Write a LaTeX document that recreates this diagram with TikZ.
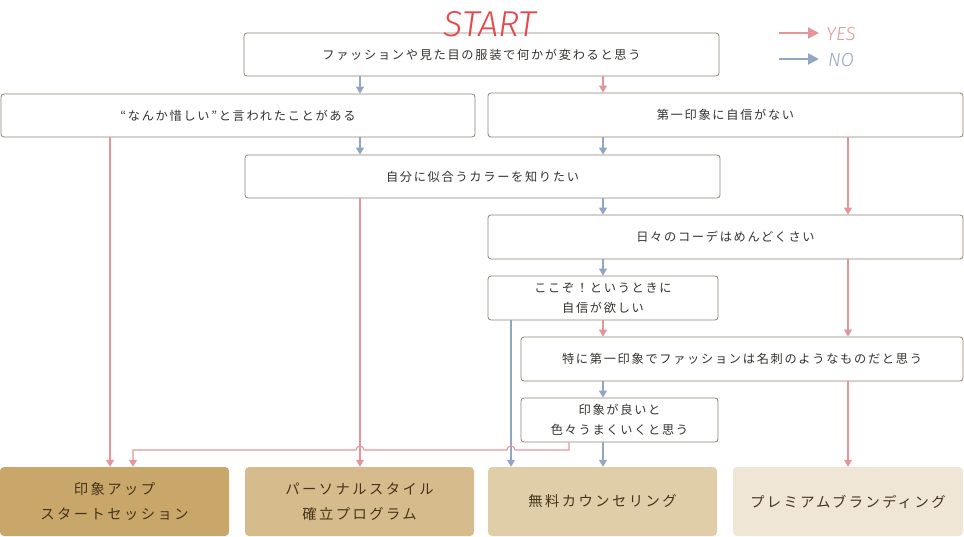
\documentclass[tikz,border=0pt]{standalone}
\usepackage{fontspec}
\usetikzlibrary{arrows.meta}
\newfontfamily\jp{Noto Sans CJK JP}[LetterSpace=14]
\newfontfamily\jpb{Noto Sans CJK JP}[LetterSpace=17]
\newfontfamily\hand{Fira Sans Light Italic}
\definecolor{bordc}{HTML}{8C8075}
\definecolor{txtc}{HTML}{35322E}
\definecolor{btxt}{HTML}{45331A}
\definecolor{yesc}{HTML}{E3959A}
\definecolor{noc}{HTML}{93A6C1}
\definecolor{startc}{HTML}{E8474A}
\definecolor{fA}{HTML}{C9A76A}
\definecolor{fB}{HTML}{D6BC8D}
\definecolor{fC}{HTML}{E0CEA9}
\definecolor{fD}{HTML}{F0E6D6}
\tikzset{
  qbox/.style={draw=bordc, line width=0.8pt, rounded corners=3pt, fill=white,
    inner sep=0pt, text=txtc, font=\jp\fontsize{12.2}{20}\selectfont, align=center},
  rbox/.style={rounded corners=4pt, inner sep=0pt, minimum width=229pt, minimum height=69pt,
    text=btxt, font=\jpb\fontsize{14.3}{25}\selectfont, align=center},
  yes/.style={draw=yesc, line width=1.1pt, -{Triangle[width=8pt,length=7pt]}},
  no/.style={draw=noc, line width=1.1pt, -{Triangle[width=8pt,length=7pt]}},
  legy/.style={draw=yesc, line width=2pt, -{Triangle[width=11pt,length=11pt]}},
  legn/.style={draw=noc, line width=2pt, -{Triangle[width=11pt,length=11pt]}}
}
\begin{document}
\begin{tikzpicture}[x=1pt,y=-1pt]
\useasboundingbox (0,0) rectangle (964,537);
% x positions
\coordinate (xa) at (110,0);
\coordinate (xb) at (133,0);
\coordinate (xc) at (360,0);
\coordinate (xd) at (511,0);
\coordinate (xe) at (569,0);
\coordinate (xf) at (603,0);
\coordinate (xg) at (848,0);
\coordinate (yh) at (0,450);
% question boxes
\node[qbox, minimum width=475pt, minimum height=43pt] (q1) at (481.5,54.5) {ファッションや見た目の服装で何かが変わると思う};
\node[qbox, minimum width=474pt, minimum height=43pt] (q2) at (238,115.5) {“なんか惜しい”と言われたことがある};
\node[qbox, minimum width=475pt, minimum height=44pt] (q3) at (725.5,115) {第一印象に自信がない};
\node[qbox, minimum width=475pt, minimum height=43pt] (q4) at (482.5,176.5) {自分に似合うカラーを知りたい};
\node[qbox, minimum width=475pt, minimum height=44pt] (q5) at (725.5,237) {日々のコーデはめんどくさい};
\node[qbox, minimum width=230pt, minimum height=44pt] (q6) at (603,298) {ここぞ！というときに\\自信が欲しい};
\node[qbox, minimum width=442pt, minimum height=44pt] (q7) at (742,359) {特に第一印象でファッションは名刺のようなものだと思う};
\node[qbox, minimum width=197pt, minimum height=44pt] (q8) at (619.5,420) {印象が良いと\\色々うまくいくと思う};
% result boxes
\node[rbox, fill=fA] (rA) at (114.5,501.5) {印象アップ\\スタートセッション};
\node[rbox, fill=fB] (rB) at (359.5,501.5) {パーソナルスタイル\\確立プログラム};
\node[rbox, fill=fC] (rC) at (602.5,501.5) {無料カウンセリング};
\node[rbox, fill=fD, minimum width=230pt] (rD) at (848,501.5) {プレミアムブランディング};
% START and legend
\node[text=startc, font=\hand\fontsize{36}{36}\selectfont, inner sep=0pt] (start) at (490,24) {START};
\coordinate (l1s) at (779,33); \coordinate (l1e) at (819,33);
\coordinate (l2s) at (779,59); \coordinate (l2e) at (819,59);
\draw[legy] (l1s) -- (l1e);
\draw[legn] (l2s) -- (l2e);
\node[text=yesc, font=\hand\fontsize{19}{19}\selectfont, anchor=west, inner sep=0pt] (yt) at (826,34) {YES};
\node[text=noc, font=\hand\fontsize{19}{19}\selectfont, anchor=west, inner sep=0pt] (nt) at (828,60) {NO};
% connectors
\draw[no]  (q1.south -| xc) -- (q2.north -| xc);
\draw[yes] (q1.south -| xf) -- (q3.north -| xf);
\draw[yes] (q2.south -| xa) -- (rA.north -| xa);
\draw[no]  (q2.south -| xc) -- (q4.north -| xc);
\draw[no]  (q3.south -| xf) -- (q4.north -| xf);
\draw[yes] (q3.south -| xg) -- (q5.north -| xg);
\draw[yes] (q4.south -| xc) -- (rB.north -| xc);
\draw[no]  (q4.south -| xf) -- (q5.north -| xf);
\draw[no]  (q5.south -| xf) -- (q6.north -| xf);
\draw[yes] (q5.south -| xg) -- (q7.north -| xg);
\draw[no]  (q6.south -| xd) -- (rC.north -| xd);
\draw[yes] (q6.south -| xf) -- (q7.north -| xf);
\draw[no]  (q7.south -| xf) -- (q8.north -| xf);
\draw[yes] (q7.south -| xg) -- (rD.north -| xg);
\draw[no]  (q8.south -| xf) -- (rC.north -| xf);
\draw[yes] (q8.south -| xe) -- (xe |- yh) -- (515,450) arc[start angle=0, end angle=180, radius=4pt]
  -- (364,450) arc[start angle=0, end angle=180, radius=4pt] -- (xb |- yh) -- (rA.north -| xb);
\end{tikzpicture}
\end{document}
